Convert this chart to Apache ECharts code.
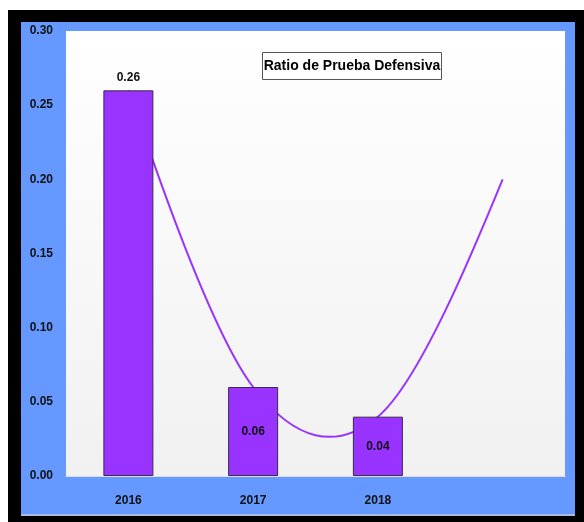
<!DOCTYPE html>
<html><head><meta charset="utf-8">
<script src="https://cdn.jsdelivr.net/npm/echarts@6/dist/echarts.min.js"></script>
<style>html,body{margin:0;padding:0;background:#fff}#c{width:584px;height:522px}</style>
</head><body><div id="c"></div>
<script>
const categories = ['2016', '2017', '2018', ''];
const barValues = [0.26, 0.06, 0.04, null];
const lineValues = [0.26, 0.06, 0.04, 0.20];
const labelPositions = ['top', 'inside', 'inside', 'inside'];
const titleText = 'Ratio de Prueba Defensiva';

const chart = echarts.init(document.getElementById('c'));
const font = 'Liberation Sans, Arial, sans-serif';

// Excel-like smoothed curve through the points given by the axes
function smoothPath(P) {
  const n = P.length;
  const h = P.map((p, i) => (i > 0 && i < n - 1)
    ? [(P[i + 1][0] - P[i - 1][0]) / 6, (P[i + 1][1] - P[i - 1][1]) / 6] : null);
  let d = 'M' + P[0][0] + ' ' + P[0][1];
  for (let i = 0; i < n - 1; i++) {
    const a = P[i], b = P[i + 1];
    let c1 = h[i] ? [a[0] + h[i][0], a[1] + h[i][1]] : null;
    let c2 = h[i + 1] ? [b[0] - h[i + 1][0], b[1] - h[i + 1][1]] : null;
    if (!c1 && c2) c1 = [a[0] + (c2[0] - a[0]) / 3, a[1] + (c2[1] - a[1]) / 3];
    if (!c2 && c1) c2 = [b[0] + (c1[0] - b[0]) / 3, b[1] + (c1[1] - b[1]) / 3];
    if (!c1) { c1 = a; c2 = b; }
    d += ' C' + c1[0] + ' ' + c1[1] + ' ' + c2[0] + ' ' + c2[1] + ' ' + b[0] + ' ' + b[1];
  }
  return d;
}

chart.setOption({
  backgroundColor: '#ffffff',
  animation: false,
  graphic: [
    {type: 'rect', z: -10, shape: {x: 8, y: 10, width: 576, height: 512}, style: {fill: '#000000'}},
    {type: 'rect', z: -9, shape: {x: 21, y: 22, width: 554, height: 493}, style: {fill: '#6699FF'}},
    {type: 'rect', z: -9, shape: {x: 21, y: 514, width: 554, height: 2}, style: {fill: '#aabbdd'}},
    {type: 'group', left: 262, top: 52, z: 20, children: [
      {type: 'rect', shape: {x: 0, y: 0, width: 179, height: 27}, style: {fill: '#ffffff', stroke: '#555555', lineWidth: 1}},
      {type: 'text', x: 89.5, y: 14, style: {text: titleText, fill: '#000', font: 'bold 14px ' + font, align: 'center', verticalAlign: 'middle'}}
    ]}
  ],
  grid: {
    left: 66, top: 31, width: 499, height: 445, show: true, borderWidth: 0,
    backgroundColor: new echarts.graphic.LinearGradient(0, 0, 0, 1, [
      {offset: 0, color: '#ffffff'}, {offset: 1, color: '#f1f1f1'}
    ])
  },
  xAxis: {
    type: 'category', data: categories,
    axisLine: {show: true, lineStyle: {color: '#dddddd'}}, axisTick: {show: false},
    axisLabel: {margin: 19, color: '#111', fontWeight: 'bold', fontSize: 12, fontFamily: font}
  },
  yAxis: {
    type: 'value', min: 0, max: 0.30, interval: 0.05,
    axisLine: {show: false}, axisTick: {show: false}, splitLine: {show: false},
    axisLabel: {margin: 13, color: '#111', fontWeight: 'bold', fontSize: 12, fontFamily: font,
      formatter: v => v.toFixed(2)}
  },
  series: [
    {
      type: 'custom', z: 1, silent: true,
      data: lineValues.map((v, i) => [i, v]),
      encode: {x: 0, y: 1},
      renderItem: function (params, api) {
        if (params.dataIndex !== 0) return null;
        const pts = lineValues.map((v, i) => api.coord([i, v]));
        return {
          type: 'path',
          shape: {pathData: smoothPath(pts)},
          style: {fill: 'none', stroke: '#9933FF', lineWidth: 2}
        };
      }
    },
    {
      type: 'bar', z: 3, barWidth: 50,
      data: barValues.map((v, i) => ({value: v, label: {position: labelPositions[i]}})),
      itemStyle: {color: '#9933FF', borderColor: '#3b2a4a', borderWidth: 1},
      label: {show: true, color: '#111', fontWeight: 'bold', fontSize: 12, fontFamily: font,
        distance: 7, formatter: p => p.value == null ? '' : p.value.toFixed(2)}
    }
  ]
});
</script></body></html>
